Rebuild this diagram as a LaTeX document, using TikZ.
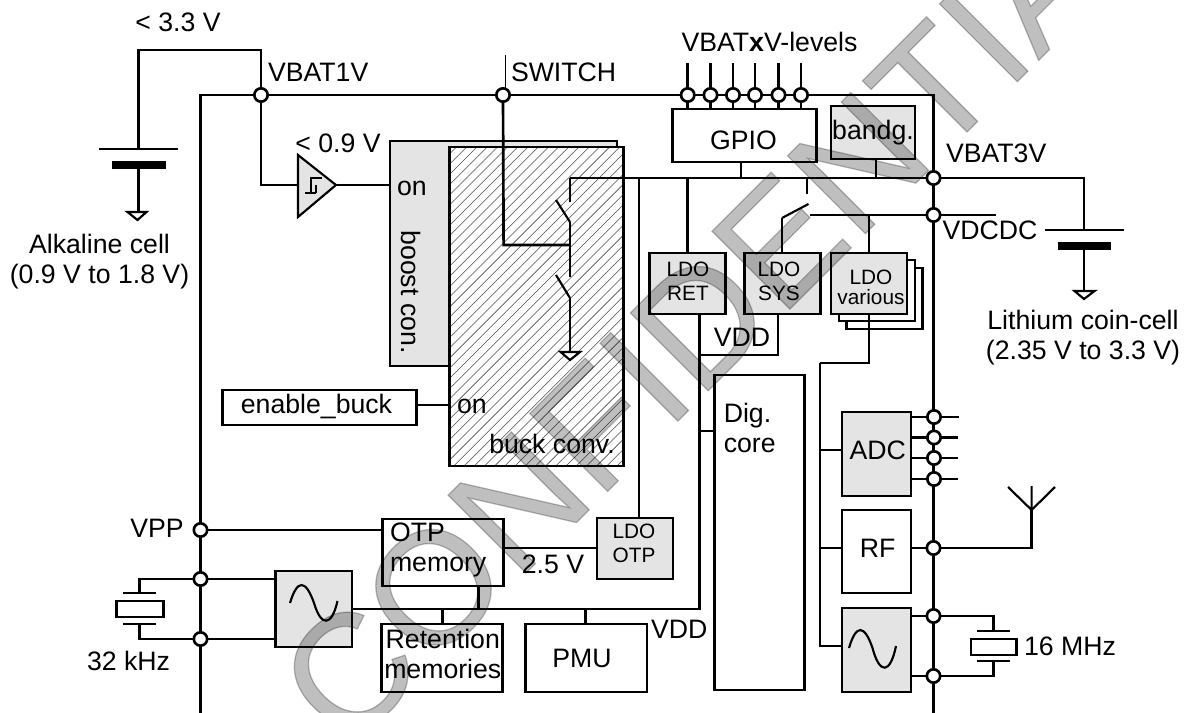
\documentclass[tikz,border=0pt]{standalone}
\usepackage{fontspec}
\setmainfont{Liberation Sans}
\newfontfamily\wmfont[FakeBold=0.8]{Liberation Sans}
\pgfdeclarelayer{under}
\pgfdeclarelayer{wires}
\pgfsetlayers{under,wires,main}
\definecolor{boxgray}{HTML}{E4E4E4}
\tikzset{
  wire/.style={line width=2pt,line cap=butt,line join=miter},
  box/.style={draw,line width=2pt,fill=white,inner sep=0pt,outer sep=0pt},
  grayfill/.style={box,fill=boxgray},
  lbl/.style={inner sep=0pt,outer sep=0pt,align=center,font=\fontsize{20}{22.5}\selectfont},
  smalllbl/.style={inner sep=0pt,outer sep=0pt,align=center,font=\fontsize{15.6}{18}\selectfont},
  junc/.style={circle,draw,fill=white,line width=2pt,inner sep=0pt,minimum size=10pt,outer sep=0pt},
  gnd/.style={draw,line width=1.6pt,fill=white,line join=miter},
}
% \bx{name}{x1}{y1}{x2}{y2}{style}{text}
\newcommand{\bx}[7]{\node[#6,minimum width={(#4-#2)*0.75pt},minimum height={(#5-#3)*0.75pt}] (#1) at ({(#2+#4)/2},{(#3+#5)/2}) {#7};}
\newcommand{\sinewave}[6]{%
  \draw[line width=1.6pt] (#1,#2) .. controls ({#1+(#3-#1)*0.3},{#2+(#4-#2)*1.33}) and ({#1+(#3-#1)*0.65},{#2+(#4-#2)*1.33}) .. (#3,{#2})
     .. controls ({#3+(#5-#3)*0.3},{#2+(#6-#2)*1.33}) and ({#3+(#5-#3)*0.75},{#2+(#6-#2)*1.33}) .. (#5,{#2-2});}
\begin{document}
\begin{tikzpicture}[x=0.75pt,y=-0.75pt]
\useasboundingbox (0,0) rectangle (1186,713);

% converters on the lowest layer
\begin{pgfonlayer}{under}
\fill[white] (0,0) rectangle (1186,713);
\bx{boost}{390}{141}{617}{366}{grayfill}{}
\node[box,minimum width={(623.4-449.7)*0.75pt},minimum height={(466-147)*0.75pt},
  path picture={
    \foreach \k in {0,...,52}{
      \draw[line width=0.42pt,black!70] ({-440+\k*10.2},170) -- ({-440+\k*10.2+340},-170);
    }
  }] (buck) at (536.5,306.5) {};
\end{pgfonlayer}

% boxes
\bx{gpio}{672.5}{109}{816.5}{162}{box}{}
\bx{bandg}{831}{106}{915}{159}{grayfill}{}
\bx{ldoret}{649.7}{253}{725.7}{314}{grayfill}{}
\bx{ldosys}{744.7}{253}{820.7}{314}{grayfill}{}
\bx{ldovb}{846.5}{268}{922.5}{329}{box}{}
\bx{ldova}{839}{260}{915}{321}{box}{}
\bx{ldov}{831}{253}{907}{314}{grayfill}{}
\bx{enbuck}{222.7}{390}{416.4}{425}{box}{}
\bx{otp}{382.7}{519}{503.6}{586}{box}{}
\bx{ldootp}{597}{518}{673}{579}{grayfill}{}
\bx{osca}{275.5}{571}{352}{647}{grayfill}{}
\bx{ret}{381.5}{624}{502.5}{692}{box}{}
\bx{pmu}{525.4}{624}{647}{692}{box}{}
\bx{dig}{714.6}{375}{804.7}{690}{box}{}
\bx{adc}{842}{412}{911}{496}{grayfill}{}
\bx{rf}{842}{510}{911}{593}{box}{}
\bx{oscb}{842}{608}{911}{692}{grayfill}{}

% comparator
\coordinate (cmpa) at (298,155);
\coordinate (cmpb) at (298,217);
\coordinate (cmpc) at (336,185);
\coordinate (cmpin) at (298,185);
\fill[boxgray] (cmpa) -- (cmpc) -- (cmpb) -- cycle;
\draw[line width=1.6pt,line join=miter] (cmpa) -- (cmpc) -- (cmpb) -- cycle;
\draw[line width=1.3pt] (305,192.7) -- (316,192.7) (316,185) -- (316,192.7) (310.7,192.7) -- (310.7,178.3) -- (321.7,178.3);

% junctions
\node[junc] (jvb1) at (261,95) {};
\node[junc] (jsw) at (503,95) {};
\node[junc] (jx1) at (687.7,95) {};
\node[junc] (jx2) at (710.5,95) {};
\node[junc] (jx3) at (733,95) {};
\node[junc] (jx4) at (755,95) {};
\node[junc] (jx5) at (778.5,95) {};
\node[junc] (jx6) at (801,95) {};
\node[junc] (jvb3) at (933.5,178) {};
\node[junc] (jdc) at (933.5,215) {};
\node[junc] (ja1) at (934,417) {};
\node[junc] (ja2) at (934,437.5) {};
\node[junc] (ja3) at (934,458) {};
\node[junc] (ja4) at (934,479) {};
\node[junc] (jrf) at (933.5,548) {};
\node[junc] (jc1) at (933.5,616) {};
\node[junc] (jc2) at (933.5,676) {};
\node[junc] (jvpp) at (200.5,530) {};
\node[junc] (jk1) at (200.5,579) {};
\node[junc] (jk2) at (200.5,639) {};

% free wire ends and corners
\coordinate (lbot) at (200.5,713);
\coordinate (rbot) at (933.5,713);
\coordinate (bustl) at (200.5,95);
\coordinate (bustr) at (933.5,95);
\coordinate (swtop) at (505.5,55);
\coordinate (swtap) at (570,245);
\coordinate (swupt) at (570,178);
\coordinate (swupb) at (570,202);
\coordinate (swmidt) at (570,222);
\coordinate (swmidb) at (570,277);
\coordinate (swlowt) at (570,298);
\coordinate (swgnd) at (570,352);
\coordinate (railtop) at (820,363);
\coordinate (railbot) at (820,646);
\coordinate (vddtop) at (699.4,355);
\coordinate (vddbot) at (699.4,609);
\coordinate (clkend) at (352,609);
\coordinate (alkp) at (138.5,149);

\begin{pgfonlayer}{wires}
% supply buses
\draw[wire] (lbot) -- (bustl) -- (bustr) -- (rbot);
% VBAT1V
\draw[wire] (alkp) -- (138.5,50) -- (261,50) -- (jvb1);
\draw[wire] (jvb1) -- (261,185) -- (cmpin);
\draw[wire] (cmpc) -- (boost.west|-cmpc);
% SWITCH
\draw[line width=1.2pt] (swtop) -- (505.5,92);
\draw[wire] (jsw) -- (503.6,245) -- (swtap);
% VBATx stubs
\foreach \n in {jx1,jx2,jx3,jx4,jx5,jx6}{
  \draw[wire] (\n) -- ++(0,-32);
  \draw[wire] (\n) -- (\n|-gpio.north);
}
% VBAT3V rail
\draw[wire] (swupt) -- (jvb3);
\draw[wire] (swupb) -- (swupt);
\draw[wire] (gpio.south-|741,0) -- (741,178);
\draw[wire] (bandg.south-|876,0) -- (876,178);
\draw[wire] (687.7,178) -- (ldoret.north-|687.7,0);
\draw[line width=1.6pt] (639.4,178) -- (ldootp.north-|639.4,0);
\draw[wire] (807,178) -- (807,194);
\draw[wire] (jvb3) -- (1084,178) -- (1084,230);
% VDCDC
\draw[wire] (810,215) -- (996,215);
\draw[wire] (869,215) -- (ldov.north-|869,0);
\draw[wire] (782,218) -- (ldosys.north-|782,0);
% VDD
\draw[wire] (ldoret.south-|699.4,0) -- (vddbot) -- (clkend);
\draw[wire] (ldosys.south-|778,0) -- (778,355) -- (vddtop);
\draw[wire] (699.4,431) -- (dig.west|-0,431);
% clock / control stubs
\draw[wire] (442.8,609) -- (ret.north-|442.8,0);
\draw[wire] (478.4,609) -- (otp.south-|478.4,0);
\draw[wire] (585.5,609) -- (pmu.north-|585.5,0);
\draw[wire] (jvpp) -- (otp.west|-jvpp);
\draw[wire] (otp.east|-0,548) -- (ldootp.west|-0,548);
\draw[wire] (enbuck.east|-0,405) -- (buck.west|-0,405);
% crystal 32 kHz
\draw[wire] (jk1) -- (osca.west|-jk1);
\draw[wire] (jk2) -- (osca.west|-jk2);
\draw[wire] (jk1) -- (139.7,579) -- (139.7,593);
\draw[wire] (jk2) -- (139.7,639) -- (139.7,624);
% right-hand rail
\draw[wire] (railtop) -- (railbot) -- (oscb.west|-railbot);
\draw[wire] (820,450) -- (adc.west|-0,450);
\draw[wire] (820,548) -- (rf.west|-0,548);
% ADC pins
\draw[wire] (911,417) -- (958.6,417);
\draw[wire] (911,437.5) -- (958,437.5);
\draw[wire] (911,458) -- (958,458);
\draw[wire] (911,479) -- (958,479);
% RF and antenna
\draw[wire] (rf.east|-jrf) -- (jrf) -- (1031.6,548) -- (1031.6,510);
\draw[line width=1.6pt] (1008,487) -- (1031.6,510) -- (1055,487) (1031.6,510) -- (1031.6,486);
% crystal 16 MHz
\draw[wire] (oscb.east|-jc1) -- (jc1) -- (993.6,616) -- (993.6,631);
\draw[wire] (oscb.east|-jc2) -- (jc2) -- (993.6,676) -- (993.6,661);
\end{pgfonlayer}

% things drawn on top of the hatching
\draw[wire] (swtap) -- (swmidb);
\draw[wire] (swlowt) -- (swgnd);
\draw[line width=1.6pt] (556,200) -- (swmidt);
\draw[line width=1.6pt] (556,275) -- (swlowt);
\draw[gnd] (560.6,352) -- (580,352) -- (570,360) -- cycle;
\draw[wire] (swmidt) -- (swtap);
\draw[line width=1.6pt] (808.5,204) -- (782,218);
% wire from LDO various over its stacked copies
\draw[wire] (ldov.south-|869,0) -- (869,363) -- (railtop);

% batteries and crystals
\draw[line width=2pt] (99,149) -- (178,149);
\fill (112,161) rectangle (166,169);
\draw[wire] (138.5,169) -- (138.5,212);
\draw[gnd] (127.5,212) -- (146.5,212) -- (137.5,220) -- cycle;
\draw[line width=2pt] (1045,230) -- (1124,230);
\fill (1058,242) rectangle (1111,250);
\draw[wire] (1084,250) -- (1084,291);
\draw[gnd] (1074.5,291) -- (1094.6,291) -- (1084,299) -- cycle;
\draw[line width=2pt] (123,593) -- (156,593) (123,624) -- (156,624);
\draw[line width=2.2pt] (116.7,601) rectangle (163.4,617);
\draw[line width=2pt] (977,631) -- (1010,631) (977,661) -- (1010,661);
\draw[line width=2.2pt] (971,639) rectangle (1016.7,655);

% sine waves
\sinewave{290}{603}{314}{585}{337.5}{621}
\sinewave{849}{648}{872.5}{630}{896}{668}

% labels
\node[lbl] (t1) at (178,22) {< 3.3 V};
\node[lbl] (t2) at (338,143) {< 0.9 V};
\node[lbl,anchor=west] (t3) at (268,72) {VBAT1V};
\node[lbl,anchor=west] (t4) at (511,72) {SWITCH};
\node[lbl] (t5) at (769.5,42) {VBAT\textbf{x}V-levels};
\node[lbl,anchor=west] (t6) at (946,153) {VBAT3V};
\node[lbl,anchor=west] (t7) at (942.6,230) {VDCDC};
\node[lbl] (t8) at (99.5,262) {Alkaline cell\\(0.9 V to 1.8 V)};
\node[lbl] (t9) at (1083,338) {Lithium coin-cell\\(2.35 V to 3.3 V)};
\node[lbl] (t10) at (412,188) {on};
\node[lbl,rotate=-90] (t11) at (411,292) {boost con.};
\node[lbl] (t12) at (472,406) {on};
\node[lbl] (t13) at (552,444) {buck conv.};
\node[lbl] (t14) at (742,337) {VDD};
\node[lbl,anchor=west,align=left] (t15) at (723.8,428) {Dig.\\core};
\node[lbl,anchor=west,align=left] (t16) at (390,549.5) {OTP\\memory};
\node[lbl] (t17) at (553,564) {2.5 V};
\node[lbl,anchor=east] (t18) at (183.7,528) {VPP};
\node[lbl] (t19) at (128.6,661) {32 kHz};
\node[lbl,anchor=west] (t20) at (651,629) {VDD};
\node[lbl,anchor=west] (t21) at (1024,646) {16 MHz};
\node[lbl] (t22) at (582,658) {PMU};
\node[lbl] (t23) at (743.5,140) {GPIO};
\node[lbl] (t24) at (873,133) {bandg.};
\node[lbl] (t25) at (316.5,406) {enable\_buck};
\node[lbl] (t26) at (442.8,654) {Retention\\memories};
\node[lbl] (t27) at (877.7,450) {ADC};
\node[lbl] (t28) at (877.7,548) {RF};
\node[smalllbl] (t29) at (688,281) {LDO\\RET};
\node[smalllbl] (t30) at (779,281) {LDO\\SYS};
\node[smalllbl,font=\fontsize{15.6}{15}\selectfont] (t31) at (871,287) {LDO\\various};
\node[smalllbl] (t32) at (634,543) {LDO\\OTP};

% watermark, over everything: black at low opacity darkens like a multiply
\begin{scope}
\clip (0,0) rectangle (1186,713);
\node[anchor=base west,rotate=45,inner sep=0pt,outer sep=0pt,text=black,text opacity=0.25,font=\wmfont\fontsize{120}{120}\selectfont] (wm) at (347,752) {CONFIDENTIAL};
\end{scope}
\end{tikzpicture}
\end{document}
